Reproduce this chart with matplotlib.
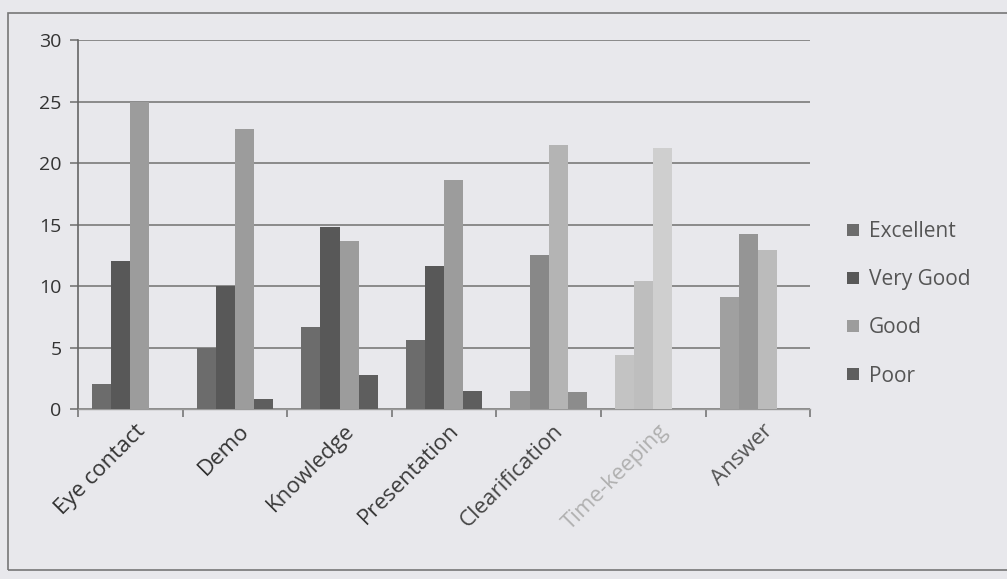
import numpy as np
import matplotlib.pyplot as plt
from matplotlib.patches import Rectangle
from matplotlib.colors import to_rgb

categories = ["Eye contact", "Demo", "Knowledge", "Presentation",
              "Clearification", "Time-keeping", "Answer"]
series = ["Excellent", "Very Good", "Good", "Poor"]
excellent = [2, 5, 6.7, 5.6, 1.5, 4.4, 9.1]
very_good = [12, 10, 14.8, 11.6, 12.5, 10.4, 14.2]
good = [25, 22.8, 13.7, 18.6, 21.5, 21.2, 12.9]
poor = [0, 0.8, 2.8, 1.5, 1.4, 0, 0]
values = [excellent, very_good, good, poor]

# scan fades toward the right
base_colors = ["#6c6c6c", "#585858", "#9c9c9c", "#5e5e5e"]
fade = [0.0, 0.0, 0.0, 0.0, 0.35, 0.75, 0.45]
label_colors = ["#333333", "#333333", "#3a3a3a", "#3a3a3a", "#444444", "#b0b0b0", "#555555"]
bg = "#e8e8ec"

plt.rcParams['font.family'] = ['Open Sans', 'DejaVu Sans']

fig = plt.figure(figsize=(10.07, 5.79), dpi=100, facecolor=bg)
ax = fig.add_axes([0.0775, 0.2936, 0.727, 0.637])
ax.set_facecolor(bg)

x = np.arange(len(categories))
width = 0.73 / 4
for i, (name, vals) in enumerate(zip(series, values)):
    cols = []
    for f in fade:
        c = np.array(to_rgb(base_colors[i]))
        cols.append(tuple(c + (0.88 - c) * f))
    ax.bar(x - 0.365 + width * (i + 0.5), vals, width, color=cols, label=name, zorder=3)

ax.set_xlim(-0.5, len(categories) - 0.5)
ax.set_ylim(0, 30)
ax.set_yticks(range(0, 31, 5))
ax.yaxis.grid(True, color="#8a8a8a", linewidth=1.4, zorder=0)
ax.set_axisbelow(True)

ax.set_xticks(np.arange(-0.5, len(categories), 1))
ax.set_xticklabels([])
ax.set_xticks(x + 0.04, minor=True)
ax.set_xticklabels(categories, minor=True, rotation=45, ha="right",
                   rotation_mode="anchor", fontsize=16)
for lbl, c in zip(ax.get_xticklabels(minor=True), label_colors):
    lbl.set_color(c)
ax.tick_params(axis="x", which="minor", length=0, pad=8)
ax.tick_params(axis="x", which="major", length=6, color="#777777", width=1.2)
ax.tick_params(axis="y", length=6, color="#777777", width=1.2, labelsize=14,
               labelcolor="#333333", pad=6)

for s in ["top", "right"]:
    ax.spines[s].set_visible(False)
ax.spines["left"].set_color("#666666")
ax.spines["left"].set_linewidth(1.2)
ax.spines["bottom"].set_color("#999999")
ax.spines["bottom"].set_linewidth(1.0)

leg = ax.legend(loc="center left", bbox_to_anchor=(1.025, 0.285), frameon=False,
                fontsize=15, labelspacing=1.3, handlelength=0.55, handleheight=0.55,
                handletextpad=0.5, labelcolor="#555555")

fig.patches.append(Rectangle((0.008, 0.016), 1.2, 0.962, transform=fig.transFigure,
                             fill=False, edgecolor="#777777", linewidth=1.2))

plt.savefig("out.png", dpi=100, facecolor=bg)
